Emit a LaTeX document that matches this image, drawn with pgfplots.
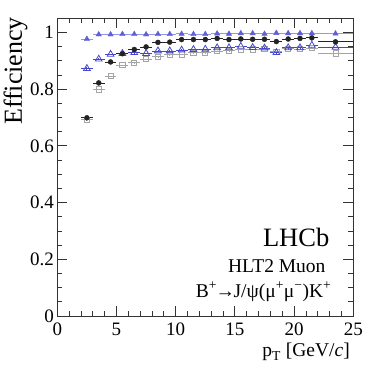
\documentclass[border=0pt]{standalone}
\usepackage{pgfplots}
\pgfplotsset{compat=1.18}
\usepackage{pgfplotstable}
\usepackage{fontspec}
\setmainfont{Liberation Serif}

\definecolor{triA}{RGB}{95,95,215}
\definecolor{triAline}{RGB}{150,150,232}
\definecolor{triB}{RGB}{70,70,205}
\definecolor{dotC}{RGB}{35,35,35}
\definecolor{sqD}{RGB}{165,165,165}

% columns: pT, efficiency, half bin width, stat error
\pgfplotstableread{
x y ex ey
2.5 0.977 0.5 0.003
3.5 0.993 0.5 0.002
4.5 0.993 0.5 0.001
5.5 0.994 0.5 0.001
6.5 0.994 0.5 0.001
7.5 0.993 0.5 0.001
8.5 0.994 0.5 0.001
9.5 0.994 0.5 0.001
10.5 0.995 0.5 0.001
11.5 0.994 0.5 0.001
12.5 0.994 0.5 0.001
13.5 0.996 0.5 0.001
14.5 0.995 0.5 0.001
15.5 0.997 0.5 0.001
16.5 0.997 0.5 0.001
17.5 0.995 0.5 0.001
18.5 0.998 0.5 0.001
19.5 0.997 0.5 0.001
20.5 0.997 0.5 0.001
21.5 0.997 0.5 0.001
23.5 0.996 1.5 0.001
}\tabTrig

\pgfplotstableread{
x y ex ey
2.5 0.873 0.5 0.004
3.5 0.906 0.5 0.003
4.5 0.923 0.5 0.002
5.5 0.926 0.5 0.002
6.5 0.929 0.5 0.002
7.5 0.926 0.5 0.002
8.5 0.935 0.5 0.002
9.5 0.935 0.5 0.002
10.5 0.938 0.5 0.002
11.5 0.940 0.5 0.002
12.5 0.941 0.5 0.002
13.5 0.946 0.5 0.002
14.5 0.946 0.5 0.002
15.5 0.951 0.5 0.002
16.5 0.947 0.5 0.002
17.5 0.945 0.5 0.002
18.5 0.929 0.5 0.002
19.5 0.946 0.5 0.002
20.5 0.946 0.5 0.002
21.5 0.955 0.5 0.002
23.5 0.948 1.5 0.002
}\tabOpen

\pgfplotstableread{
x y ex ey
2.5 0.699 0.5 0.004
3.5 0.822 0.5 0.003
4.5 0.896 0.5 0.002
5.5 0.925 0.5 0.002
6.5 0.940 0.5 0.002
7.5 0.949 0.5 0.002
8.5 0.965 0.5 0.002
9.5 0.966 0.5 0.002
10.5 0.975 0.5 0.002
11.5 0.975 0.5 0.002
12.5 0.975 0.5 0.002
13.5 0.979 0.5 0.002
14.5 0.975 0.5 0.002
15.5 0.977 0.5 0.002
16.5 0.976 0.5 0.002
17.5 0.976 0.5 0.002
18.5 0.968 0.5 0.002
19.5 0.977 0.5 0.002
20.5 0.979 0.5 0.002
21.5 0.981 0.5 0.002
23.5 0.967 1.5 0.002
}\tabDot

\pgfplotstableread{
x y ex ey
2.5 0.692 0.5 0.004
3.5 0.799 0.5 0.003
4.5 0.846 0.5 0.002
5.5 0.885 0.5 0.002
6.5 0.894 0.5 0.002
7.5 0.906 0.5 0.002
8.5 0.915 0.5 0.002
9.5 0.922 0.5 0.002
10.5 0.923 0.5 0.002
11.5 0.928 0.5 0.002
12.5 0.929 0.5 0.002
13.5 0.934 0.5 0.002
14.5 0.936 0.5 0.002
15.5 0.940 0.5 0.002
16.5 0.940 0.5 0.002
17.5 0.941 0.5 0.002
18.5 0.932 0.5 0.002
19.5 0.943 0.5 0.002
20.5 0.942 0.5 0.002
21.5 0.945 0.5 0.002
23.5 0.926 1.5 0.002
}\tabSq

\pgfplotsset{
  errstyle/.style={
    error bars/.cd, x dir=both, x explicit, y dir=both, y explicit,
    error mark=none, error bar style={line width=0.8pt, #1}},
}

\begin{document}
\begin{tikzpicture}
\begin{axis}[
  name=ax,
  scale only axis,
  width=296pt, height=297.7pt,
  xmin=0, xmax=25, ymin=0, ymax=1.05,
  xtick={0,5,...,25},
  ytick={0,0.2,0.4,0.6,0.8,1},
  minor x tick num=4,
  minor y tick num=3,
  tick align=inside,
  tick pos=both,
  major tick length=10pt,
  minor tick length=5pt,
  axis line style={line width=0.8pt, black!80},
  tick style={line width=0.8pt, black!80},
  /pgf/number format/assume math mode=true,
  ticklabel style={font=\fontsize{19}{19}\selectfont},
  xticklabel style={inner sep=0pt, yshift=-7pt},
  yticklabel style={inner sep=0pt, xshift=-3.3pt},
  clip=false,
]
  \addplot[only marks, mark=square, mark size=2.6pt, sqD,
    mark options={line width=0.8pt}, errstyle={sqD}]
    table[x=x, y=y, x error=ex, y error=ey] {\tabSq};
  \addplot[only marks, mark=triangle, mark size=3.9pt, triB,
    mark options={line width=0.8pt}, errstyle={triB}]
    table[x=x, y=y, x error=ex, y error=ey] {\tabOpen};
  \addplot[only marks, mark=*, mark size=2.5pt, dotC,
    errstyle={dotC}]
    table[x=x, y=y, x error=ex, y error=ey] {\tabDot};
  \addplot[only marks, mark=triangle*, mark size=3.1pt, triA,
    errstyle={triAline}]
    table[x=x, y=y, x error=ex, y error=ey] {\tabTrig};

  \node[anchor=base east, font=\fontsize{26.5}{26.5}\selectfont] at (axis cs:23.27,0.244) {LHCb};
  \node[anchor=base east, font=\fontsize{19.5}{19.5}\selectfont] at (axis cs:22.95,0.152) {HLT2 Muon};
  \node[anchor=base east, font=\fontsize{19.5}{19.5}\selectfont] at (axis cs:23.45,0.067)
    {B\textsuperscript{+}\kern-1.5pt→\kern-1.5pt J/ψ(μ\textsuperscript{+}μ\textsuperscript{−})K\textsuperscript{+}};
  \node[anchor=base east, font=\fontsize{19.5}{19.5}\selectfont] at (axis cs:25,-0.1445)
    {p\textsubscript{T} [GeV/\textit{c}]};
  \node[rotate=90, anchor=base east, inner sep=0pt, font=\fontsize{26}{26}\selectfont] at (axis cs:-3.0,1.055)
    {Efficiency};
\end{axis}
\pgfresetboundingbox
\path[use as bounding box] (ax.south west) ++(-57.3pt,-56pt) rectangle ++(384pt,372pt);
\end{tikzpicture}
\end{document}
